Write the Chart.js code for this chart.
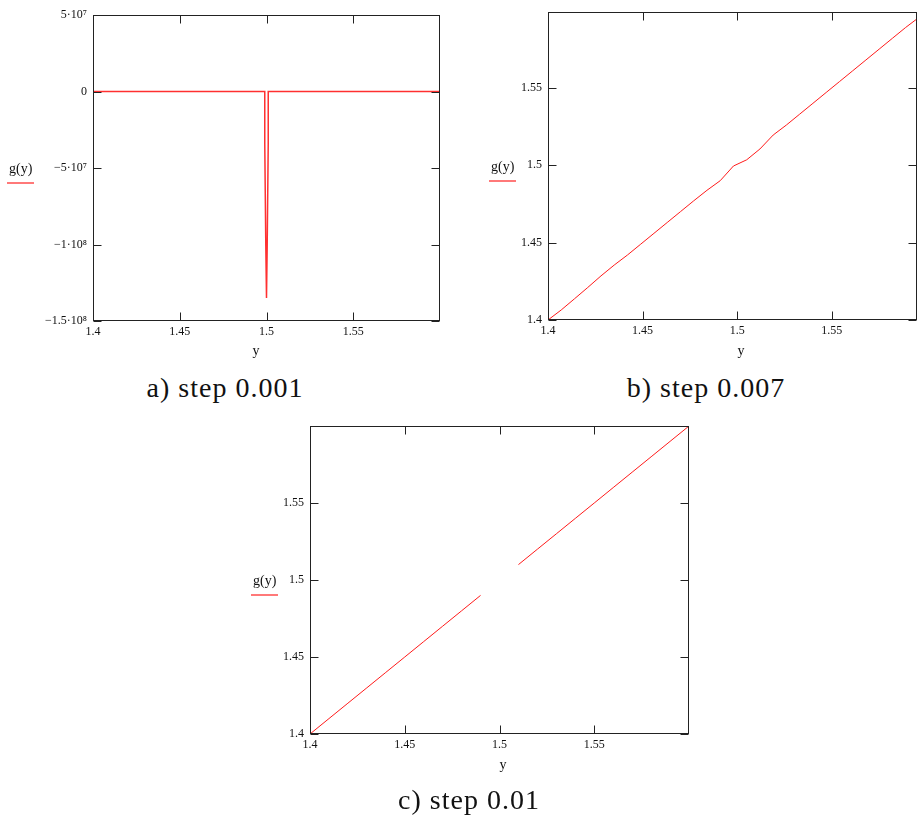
<!DOCTYPE html>
<html>
<head>
<meta charset="utf-8">
<script src="https://cdn.jsdelivr.net/npm/chart.js@4.4.1/dist/chart.umd.min.js"></script>
<style>
  body { margin: 0; background: #fff; width: 917px; height: 818px; position: relative; overflow: hidden; }
  canvas { position: absolute; }
  .caption {
    position: absolute; width: 300px; text-align: center; white-space: nowrap;
    font-family: "Liberation Serif", "DejaVu Serif", serif;
    font-size: 28px; line-height: 27px; letter-spacing: 1px; color: #111;
  }
</style>
</head>
<body>
<canvas id="chart-a" width="450" height="370" style="left:0;top:0"></canvas>
<canvas id="chart-b" width="437" height="370" style="left:480px;top:0"></canvas>
<canvas id="chart-c" width="460" height="370" style="left:240px;top:415px"></canvas>
<div class="caption" style="left:75px;top:374px">a) step 0.001</div>
<div class="caption" style="left:556px;top:374px">b) step 0.007</div>
<div class="caption" style="left:319px;top:786px">c) step 0.01</div>
<script>
// a) step 0.001 : zero everywhere except the spike at y = 1.5
const yValuesA = [1.4, 1.499, 1.499, 1.4996, 1.5, 1.5004, 1.501, 1.501, 1.6];
const gValuesA = [0, 0, -3.4e7, -1.01e8, -1.35e8, -1.01e8, -3.4e7, 0, 0];

// b) step 0.007
const yValuesB = [1.400, 1.407, 1.414, 1.421, 1.428, 1.435, 1.442, 1.449, 1.456, 1.463,
  1.470, 1.477, 1.484, 1.491, 1.498, 1.505, 1.512, 1.519, 1.526, 1.533,
  1.540, 1.547, 1.554, 1.561, 1.568, 1.575, 1.582, 1.589, 1.596];
const gValuesB = [1.400, 1.4065, 1.4137, 1.421, 1.4285, 1.4355, 1.442, 1.449, 1.456, 1.463,
  1.470, 1.477, 1.4838, 1.490, 1.4995, 1.5035, 1.5105, 1.5195, 1.526, 1.533,
  1.540, 1.547, 1.554, 1.561, 1.568, 1.575, 1.582, 1.589, 1.5955];

// c) step 0.01 : no value at 1.5
const yValuesC = [1.40, 1.41, 1.42, 1.43, 1.44, 1.45, 1.46, 1.47, 1.48, 1.49, 1.50,
  1.51, 1.52, 1.53, 1.54, 1.55, 1.56, 1.57, 1.58, 1.59, 1.60];
const gValuesC = [1.40, 1.41, 1.42, 1.43, 1.44, 1.45, 1.46, 1.47, 1.48, 1.49, null,
  1.51, 1.52, 1.53, 1.54, 1.55, 1.56, 1.57, 1.58, 1.59, 1.60];

const xTicks = [1.4, 1.45, 1.5, 1.55];
const xTickLabels = ['1.4', '1.45', '1.5', '1.55'];
const yTicksA = [-1.5e8, -1e8, -5e7, 0, 5e7];
const yTickLabelsA = ['\u22121.5\u00b710\u2078', '\u22121\u00b710\u2078', '\u22125\u00b710\u2077', '0', '5\u00b710\u2077'];
const yTicksBC = [1.4, 1.45, 1.5, 1.55];
const yTickLabelsBC = ['1.4', '1.45', '1.5', '1.55'];

Chart.defaults.font.family = '"Liberation Serif", "Times New Roman", serif';
Chart.defaults.font.size = 12;
Chart.defaults.color = '#111';

// Mathcad style frame: box round the plot, inward ticks, g(y) legend and axis name
const mathcadFrame = {
  id: 'mathcadFrame',
  afterDraw(chart, args, opts) {
    const { ctx, chartArea: ca, scales: { x, y } } = chart;
    const l = Math.round(ca.left) + 0.5, r = Math.round(ca.right) - 0.5;
    const t = Math.round(ca.top) + 0.5, b = Math.round(ca.bottom) - 0.5;
    ctx.save();
    ctx.strokeStyle = '#222';
    ctx.lineWidth = 1;
    ctx.strokeRect(l, t, r - l, b - t);
    ctx.beginPath();
    x.ticks.forEach(tk => {
      const px = Math.round(x.getPixelForValue(tk.value)) + 0.5;
      ctx.moveTo(px, t); ctx.lineTo(px, t + 8);
      ctx.moveTo(px, b); ctx.lineTo(px, b - 8);
    });
    y.ticks.forEach(tk => {
      const py = Math.round(y.getPixelForValue(tk.value)) + 0.5;
      ctx.moveTo(l, py); ctx.lineTo(l + 8, py);
      ctx.moveTo(r, py); ctx.lineTo(r - 8, py);
    });
    ctx.stroke();

    ctx.font = '14px "Liberation Serif", serif';
    ctx.fillStyle = '#111';
    ctx.textBaseline = 'alphabetic';
    ctx.textAlign = 'left';
    ctx.fillText('g(y)', opts.legend[0], opts.legend[1]);
    ctx.textAlign = 'center';
    ctx.fillText('y', opts.name[0], opts.name[1]);
    ctx.strokeStyle = '#ff4d4d';
    ctx.lineWidth = 1.5;
    ctx.beginPath();
    ctx.moveTo(opts.legend[0] - 2, opts.legend[1] + 10);
    ctx.lineTo(opts.legend[0] + 25, opts.legend[1] + 10);
    ctx.stroke();
    ctx.restore();
  }
};

function makeChart(id, xs, gs, cfg) {
  const points = xs.map((v, i) => ({ x: v, y: gs[i] }));
  return new Chart(document.getElementById(id), {
    type: 'line',
    data: {
      datasets: [{
        data: points,
        borderColor: cfg.color,
        borderWidth: cfg.lineWidth,
        pointRadius: 0,
        tension: 0,
        spanGaps: false
      }]
    },
    options: {
      responsive: false,
      animation: false,
      events: [],
      layout: { padding: cfg.padding },
      plugins: {
        legend: { display: false },
        tooltip: { enabled: false },
        mathcadFrame: { legend: cfg.legend, name: cfg.name }
      },
      scales: {
        x: {
          type: 'linear',
          min: cfg.xMin, max: cfg.xMax,
          grid: { display: false, drawTicks: false },
          border: { display: false },
          afterBuildTicks: s => { s.ticks = xTicks.map(v => ({ value: v })); },
          afterFit: s => { s.height = cfg.xHeight; s.paddingLeft = 0; s.paddingRight = 0; },
          ticks: {
            autoSkip: false, maxRotation: 0, padding: 4,
            callback: v => xTickLabels[xTicks.indexOf(v)]
          }
        },
        y: {
          type: 'linear',
          min: cfg.yMin, max: cfg.yMax,
          grid: { display: false, drawTicks: false },
          border: { display: false },
          afterBuildTicks: s => { s.ticks = cfg.yTicks.map(v => ({ value: v })); },
          afterFit: s => { s.width = cfg.yWidth; s.paddingTop = 0; s.paddingBottom = 0; },
          ticks: {
            autoSkip: false, padding: 6,
            callback: v => cfg.yLabels[cfg.yTicks.indexOf(v)]
          }
        }
      }
    },
    plugins: [mathcadFrame]
  });
}

makeChart('chart-a', yValuesA, gValuesA, {
  color: '#ff3030', lineWidth: 1.5,
  xMin: 1.4, xMax: 1.6, yMin: -1.5e8, yMax: 5e7,
  yTicks: yTicksA, yLabels: yTickLabelsA,
  padding: { top: 15, right: 10, left: 0, bottom: 0 },
  yWidth: 93, xHeight: 49,
  legend: [9, 173], name: [256, 355]
});

makeChart('chart-b', yValuesB, gValuesB, {
  color: '#ff1a1a', lineWidth: 1,
  xMin: 1.4, xMax: 1.595, yMin: 1.4, yMax: 1.599,
  yTicks: yTicksBC, yLabels: yTickLabelsBC,
  padding: { top: 12, right: 0, left: 0, bottom: 0 },
  yWidth: 68, xHeight: 50,
  legend: [11, 171], name: [261, 355]
});

makeChart('chart-c', yValuesC, gValuesC, {
  color: '#ff1a1a', lineWidth: 1,
  xMin: 1.4, xMax: 1.6, yMin: 1.4, yMax: 1.6,
  yTicks: yTicksBC, yLabels: yTickLabelsBC,
  padding: { top: 11, right: 11, left: 0, bottom: 0 },
  yWidth: 70, xHeight: 51,
  legend: [13, 170], name: [263, 354]
});
</script>
</body>
</html>
